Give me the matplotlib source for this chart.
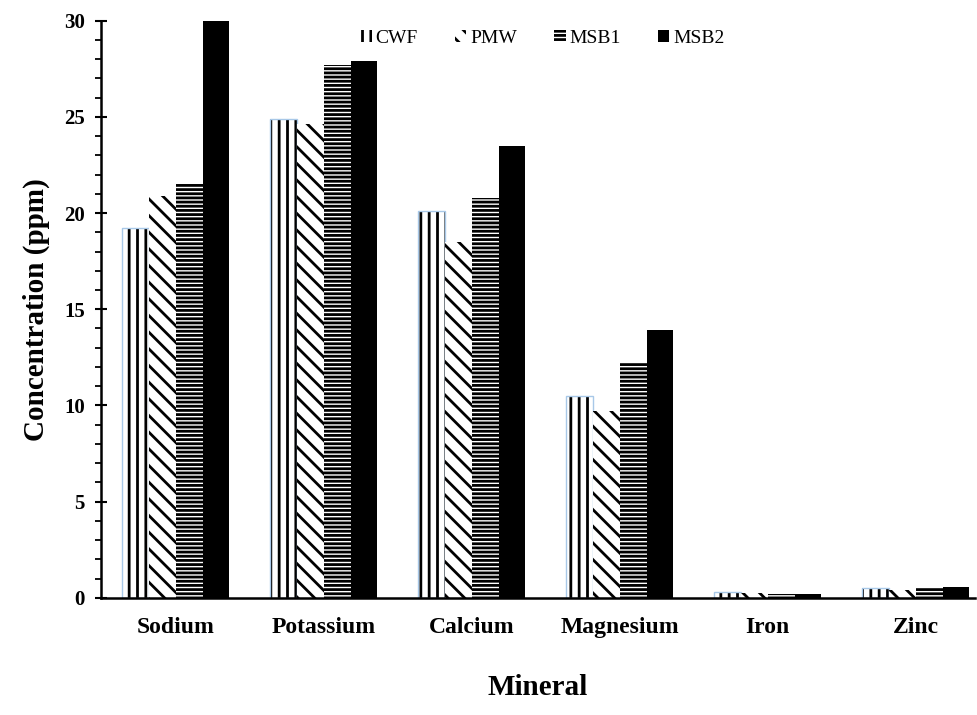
import matplotlib
matplotlib.use("Agg")
import matplotlib.pyplot as plt
import numpy as np
from matplotlib.ticker import MultipleLocator

categories = ["Sodium", "Potassium", "Calcium", "Magnesium", "Iron", "Zinc"]
series = ["CWF", "PMW", "MSB1", "MSB2"]
cwf = [19.2, 24.9, 20.1, 10.5, 0.28, 0.50]
pmw = [20.9, 24.65, 18.5, 9.7, 0.25, 0.42]
msb1 = [21.5, 27.7, 20.8, 12.2, 0.20, 0.55]
msb2 = [30.0, 27.9, 23.5, 13.9, 0.20, 0.55]
values = [cwf, pmw, msb1, msb2]

plt.rcParams['font.family'] = ['Liberation Serif', 'DejaVu Serif']
plt.rcParams['hatch.linewidth'] = 2.0

fig = plt.figure(figsize=(9.78, 7.15), dpi=100)
ax = fig.add_axes([0.103, 0.164, 0.894, 0.807])

hatches = ['||', '\\\\', '----', None]
faces = ['white', 'white', 'white', 'black']
x = np.arange(len(categories))
w = 0.181
for i, (name, vals) in enumerate(zip(series, values)):
    pos = x + (i - 1.5) * w
    ax.bar(pos, vals, w, facecolor=faces[i], hatch=hatches[i],
           edgecolor='black', linewidth=0, label=name)
    if i == 0:
        ax.bar(pos, vals, w, facecolor='none', edgecolor='#a8c8e8', linewidth=1.0)

ax.set_xlim(-0.507, 5.40)
ax.set_ylim(0, 30)
ax.yaxis.set_major_locator(MultipleLocator(5))
ax.yaxis.set_minor_locator(MultipleLocator(1))
ax.tick_params(axis='y', which='major', length=9, width=1.5, direction='inout', labelsize=15, pad=7)
ax.tick_params(axis='y', which='minor', length=4, width=1.3, direction='out')
ax.tick_params(axis='x', length=0, labelsize=17, pad=14)
ax.set_xticks(x)
ax.set_xticklabels(categories, fontweight='bold')
for t in ax.get_yticklabels():
    t.set_fontweight('bold')
for s in ['top', 'right']:
    ax.spines[s].set_visible(False)
ax.spines['left'].set_linewidth(1.8)
ax.spines['bottom'].set_linewidth(1.8)

ax.set_ylabel("Concentration (ppm)", fontsize=21, fontweight='bold', labelpad=10)
ax.set_xlabel("Mineral", fontsize=21, fontweight='bold', labelpad=26)

leg = ax.legend(loc='upper center', bbox_to_anchor=(0.505, 1.015), ncol=4, frameon=False,
                fontsize=14, handlelength=0.6, handleheight=0.6, handletextpad=0.2,
                columnspacing=1.9)

fig.savefig("out.png", dpi=100)
